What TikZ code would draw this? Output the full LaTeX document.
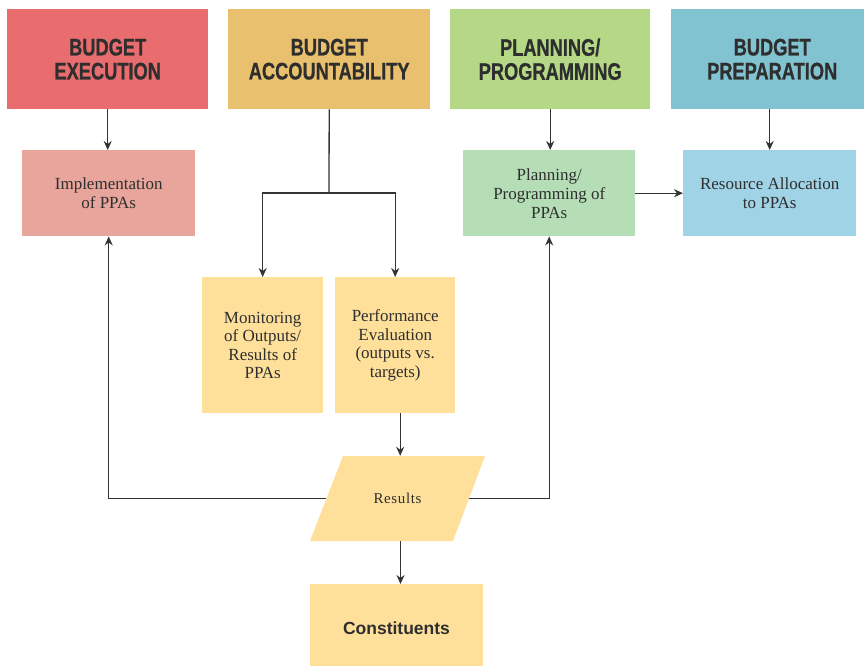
\documentclass[tikz,border=0pt]{standalone}
\usepackage{fontspec}
\setmainfont{Liberation Serif}
\newfontfamily\hdrfont[FakeStretch=0.76,FakeBold=0.6]{Liberation Sans Bold}
\newfontfamily\boldsans{Liberation Sans Bold}
\usetikzlibrary{arrows.meta}
\definecolor{cExec}{HTML}{E96D6E}
\definecolor{cAcc}{HTML}{E9C06D}
\definecolor{cPlan}{HTML}{B4D886}
\definecolor{cPrep}{HTML}{81C3D1}
\definecolor{cImpl}{HTML}{E8A59C}
\definecolor{cPlanB}{HTML}{B5DEB7}
\definecolor{cPrepB}{HTML}{A1D3E7}
\definecolor{cYel}{HTML}{FFE09B}
\definecolor{cTxt}{HTML}{2E2E2E}
\definecolor{cLine}{HTML}{333333}
\tikzset{
  header/.style={rectangle, anchor=north west, minimum width=201pt, minimum height=100pt,
    inner sep=0pt, align=center, text=cTxt, font=\hdrfont\fontsize{24}{24}\selectfont},
  subbox/.style={rectangle, anchor=north west, minimum width=173pt, minimum height=86pt,
    inner sep=0pt, align=center, text=cTxt, font=\fontsize{17}{19}\selectfont},
  ybox/.style={rectangle, anchor=north west, minimum width=121pt, minimum height=136pt,
    inner sep=0pt, align=center, text=cTxt, fill=cYel, font=\fontsize{17}{18.5}\selectfont},
  arr/.style={draw=cLine, line width=1.3pt, -{Stealth[length=9pt,width=8pt]}},
  ln/.style={draw=cLine, line width=1.3pt}
}
\begin{document}
\begin{tikzpicture}[x=1pt,y=-1pt]
\useasboundingbox (0,0) rectangle (864,665);
\fill[white] (0,0) rectangle (864,665);
% headers
\node[header, fill=cExec] (exec) at (7,9) {BUDGET\\EXECUTION};
\node[header, fill=cAcc, minimum width=202pt] (acc) at (228,9) {BUDGET\\ACCOUNTABILITY};
\node[header, fill=cPlan, minimum width=200pt] (plan) at (450,9) {PLANNING/\\PROGRAMMING};
\node[header, fill=cPrep, minimum width=202pt] (prep) at (671,9) {BUDGET\\PREPARATION};
% second row
\node[subbox, fill=cImpl] (impl) at (22,150) {Implementation\\of PPAs};
\node[subbox, fill=cPlanB, minimum width=172pt] (planb) at (463,150) {Planning/\\Programming of\\PPAs};
\node[subbox, fill=cPrepB] (prepb) at (683,150) {Resource Allocation\\to PPAs};
% third row
\node[ybox] (mon) at (202,277) {Monitoring\\of Outputs/\\Results of\\PPAs};
\node[ybox, minimum width=120pt] (perf) at (335,277) {Performance\\Evaluation\\(outputs vs.\\targets)};
% parallelogram
\fill[cYel] (343,456) -- (485,456) -- (453,541) -- (310,541) -- cycle;
\node[rectangle, minimum width=142pt, minimum height=85pt, inner sep=0pt, text=cTxt,
  font=\addfontfeatures{LetterSpace=4}\fontsize{15}{16}\selectfont] (res) at (397.5,498.5) {Results};
% constituents
\node[rectangle, anchor=north west, minimum width=173pt, minimum height=90pt, inner sep=0pt,
  fill=cYel] (cons) at (310,584) {};
\node[text=cTxt, font=\boldsans\fontsize{17.5}{20}\selectfont, inner sep=0pt] (constxt) at (396.5,628) {Constituents};
% connectors
\draw[arr] (exec.south) -- (exec.south |- impl.north);
\draw[arr] (plan.south) -- (plan.south |- planb.north);
\draw[arr] (prep.south -| prepb.north) -- (prepb.north);
\draw[arr] (planb.east) -- (prepb.west);
\coordinate (split) at (329,193);
\draw[ln] (acc.south) -- (split);
\draw[arr] (split) -| (mon.north);
\draw[arr] (split) -| (perf.north);
\draw[arr] ([xshift=5pt]perf.south) -- ([xshift=5pt]perf.south |- res.north);
\draw[arr] ([xshift=3pt]res.south) -- ([xshift=3pt]res.south |- cons.north);
\draw[arr] (res.west) -| (impl.south);
\draw[arr] (res.east) -| (planb.south);
\end{tikzpicture}
\end{document}
